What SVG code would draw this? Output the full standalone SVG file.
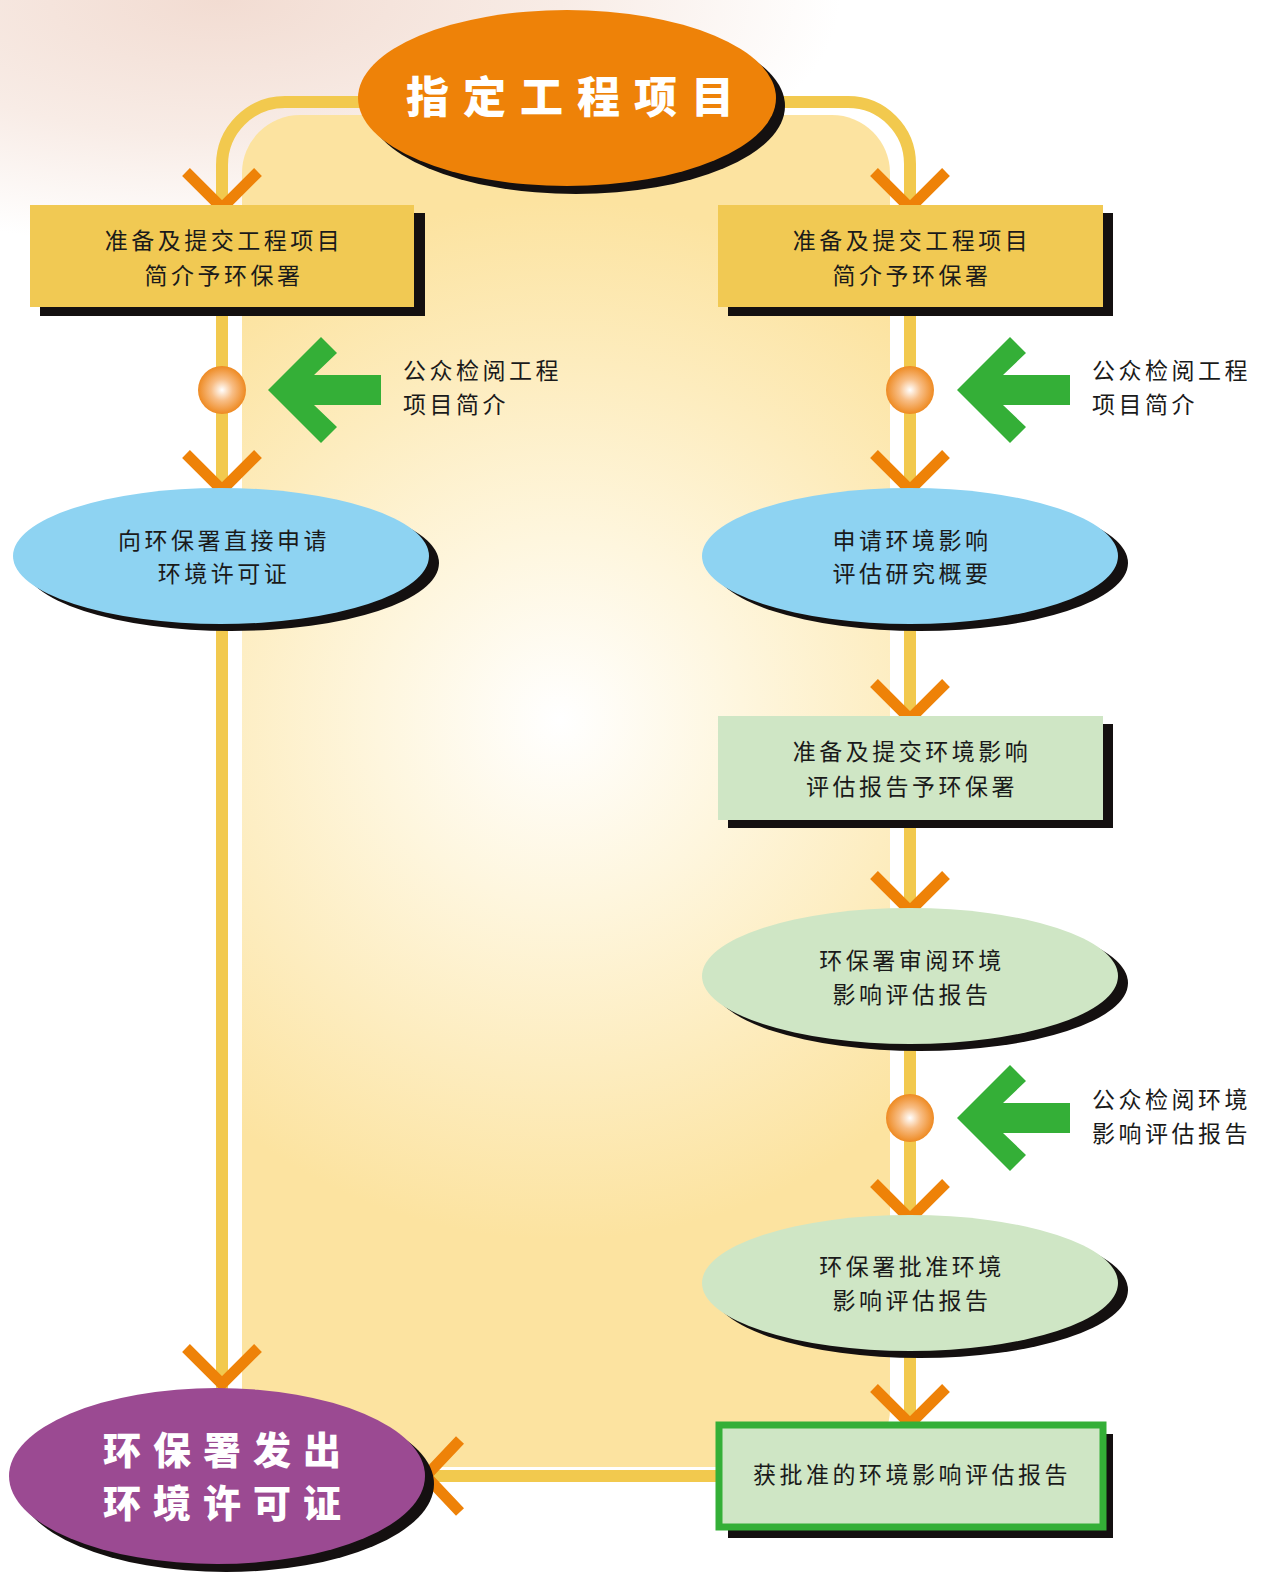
<svg xmlns="http://www.w3.org/2000/svg" width="1272" height="1581" viewBox="0 0 1272 1581">
<defs>
<style>
.lbl{font-family:"Noto Sans CJK SC","Noto Sans CJK TC",sans-serif;font-size:23px;letter-spacing:3.5px;fill:#1a1a1a;text-anchor:middle}
.side{font-family:"Noto Sans CJK SC","Noto Sans CJK TC",sans-serif;font-size:23px;letter-spacing:3.5px;fill:#1a1a1a}
.big{font-family:"Noto Sans CJK SC","Noto Sans CJK TC",sans-serif;font-weight:900;fill:#ffffff;text-anchor:middle}
.shadow{fill:#141010}
.chev{fill:none;stroke:#EE8208;stroke-width:11;stroke-linejoin:miter;stroke-miterlimit:10}
.track{fill:none;stroke:#F2C94E;stroke-width:12}
.garrow{fill:#34AF37}
</style>
<radialGradient id="bgTop" cx="220" cy="0" r="620" gradientUnits="userSpaceOnUse" gradientTransform="scale(1,0.4)">
<stop offset="0" stop-color="#F2DCD2"/>
<stop offset="0.55" stop-color="#F8ECE6"/>
<stop offset="1" stop-color="#FFFFFF"/>
</radialGradient>
<radialGradient id="panelGrad" cx="560" cy="720" r="520" gradientUnits="userSpaceOnUse">
<stop offset="0" stop-color="#FFFFFF"/>
<stop offset="0.35" stop-color="#FEF6DE"/>
<stop offset="1" stop-color="#FCE3A0"/>
</radialGradient>
<radialGradient id="ball" cx="0.5" cy="0.5" r="0.5">
<stop offset="0" stop-color="#FFFFFF"/>
<stop offset="0.45" stop-color="#F8BE86"/>
<stop offset="1" stop-color="#EE8A22"/>
</radialGradient>
<path id="chevV" d="M -36 -36 L 0 0 L 36 -36"/>
<polygon id="gar" points="268,390 321,337 337,353 314,375 381,375 381,405 314,405 337,427 321,443"/>
</defs>

<rect x="0" y="0" width="1272" height="1581" fill="#FFFFFF"/>
<rect x="0" y="0" width="1272" height="300" fill="url(#bgTop)"/>

<rect id="panel" x="242" y="115" width="648" height="1352" rx="58" ry="58" fill="url(#panelGrad)"/>

<g id="connectors">
<path class="track" d="M 370 102 H 285 A 63 63 0 0 0 222 165 V 1395"/>
<path class="track" d="M 765 102 H 848 A 62 62 0 0 1 910 164 V 1430"/>
<path class="track" d="M 420 1476 H 720"/>
<use href="#chevV" class="chev" x="222" y="208"/>
<use href="#chevV" class="chev" x="910" y="208"/>
<use href="#chevV" class="chev" x="222" y="490"/>
<use href="#chevV" class="chev" x="910" y="490"/>
<use href="#chevV" class="chev" x="910" y="719"/>
<use href="#chevV" class="chev" x="910" y="911"/>
<use href="#chevV" class="chev" x="910" y="1219"/>
<use href="#chevV" class="chev" x="910" y="1424"/>
<use href="#chevV" class="chev" x="222" y="1384"/>
<path class="chev" d="M 460 1440 L 426 1476 L 460 1512"/>
</g>

<g id="node-title">
<ellipse class="shadow" cx="576" cy="106" rx="209" ry="88"/>
<ellipse cx="567" cy="98" rx="209" ry="88" fill="#EE8208"/>
<text class="big" x="577" y="113" font-size="43" letter-spacing="14">指定工程项目</text>
</g>

<g id="node-brief-left">
<rect class="shadow" x="40" y="213" width="385" height="103"/>
<rect x="30" y="205" width="384" height="102" fill="#F1C953"/>
<text class="lbl" x="224" y="249">准备及提交工程项目</text>
<text class="lbl" x="224" y="284">简介予环保署</text>
</g>

<g id="node-brief-right">
<rect class="shadow" x="728" y="213" width="385" height="103"/>
<rect x="718" y="205" width="385" height="102" fill="#F1C953"/>
<text class="lbl" x="912" y="249">准备及提交工程项目</text>
<text class="lbl" x="912" y="284">简介予环保署</text>
</g>

<g id="node-review-left">
<circle cx="222" cy="390" r="24" fill="url(#ball)"/>
<use href="#gar" class="garrow"/>
<text class="side" x="403" y="379">公众检阅工程</text>
<text class="side" x="403" y="413">项目简介</text>
</g>

<g id="node-review-right">
<circle cx="910" cy="390" r="24" fill="url(#ball)"/>
<use href="#gar" class="garrow" x="689"/>
<text class="side" x="1092" y="379">公众检阅工程</text>
<text class="side" x="1092" y="413">项目简介</text>
</g>

<g id="node-direct">
<ellipse class="shadow" cx="231" cy="563" rx="208" ry="68"/>
<ellipse cx="221" cy="556" rx="208" ry="68" fill="#8ED3F2"/>
<text class="lbl" x="224" y="549">向环保署直接申请</text>
<text class="lbl" x="224" y="582">环境许可证</text>
</g>

<g id="node-brief-study">
<ellipse class="shadow" cx="920" cy="563" rx="208" ry="68"/>
<ellipse cx="910" cy="556" rx="208" ry="68" fill="#8ED3F2"/>
<text class="lbl" x="912" y="549">申请环境影响</text>
<text class="lbl" x="912" y="582">评估研究概要</text>
</g>

<g id="node-eia-submit">
<rect class="shadow" x="728" y="724" width="385" height="104"/>
<rect x="718" y="716" width="385" height="104" fill="#CFE6C5"/>
<text class="lbl" x="912" y="760">准备及提交环境影响</text>
<text class="lbl" x="912" y="795">评估报告予环保署</text>
</g>

<g id="node-eia-review">
<ellipse class="shadow" cx="920" cy="983" rx="208" ry="68"/>
<ellipse cx="910" cy="976" rx="208" ry="68" fill="#CFE6C5"/>
<text class="lbl" x="912" y="969">环保署审阅环境</text>
<text class="lbl" x="912" y="1003">影响评估报告</text>
</g>

<g id="node-public-eia">
<circle cx="910" cy="1118" r="24" fill="url(#ball)"/>
<use href="#gar" class="garrow" x="689" y="728"/>
<text class="side" x="1092" y="1108">公众检阅环境</text>
<text class="side" x="1092" y="1142">影响评估报告</text>
</g>

<g id="node-eia-approve">
<ellipse class="shadow" cx="920" cy="1290" rx="208" ry="68"/>
<ellipse cx="910" cy="1283" rx="208" ry="68" fill="#CFE6C5"/>
<text class="lbl" x="912" y="1275">环保署批准环境</text>
<text class="lbl" x="912" y="1309">影响评估报告</text>
</g>

<g id="node-approved-report">
<rect class="shadow" x="728" y="1434" width="385" height="104"/>
<rect x="719" y="1425" width="384" height="102" fill="#CFE6C5" stroke="#34AF37" stroke-width="7"/>
<text class="lbl" x="912" y="1483">获批准的环境影响评估报告</text>
</g>

<g id="node-permit">
<ellipse class="shadow" cx="226" cy="1484" rx="208" ry="88"/>
<ellipse cx="217" cy="1476" rx="208" ry="88" fill="#9B4A92"/>
<text class="big" x="228" y="1464" font-size="38" letter-spacing="12">环保署发出</text>
<text class="big" x="228" y="1517" font-size="38" letter-spacing="12">环境许可证</text>
</g>
</svg>
